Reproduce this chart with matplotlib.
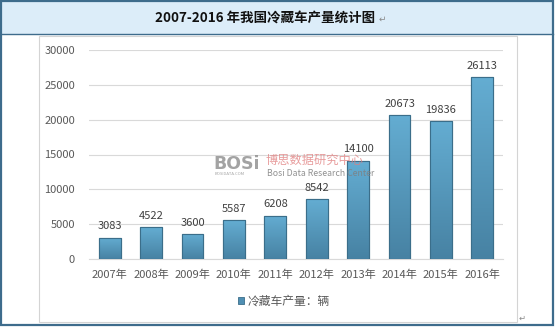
import numpy as np
import matplotlib
matplotlib.use("Agg")
import matplotlib.pyplot as plt
from matplotlib.patches import Rectangle, Patch
from matplotlib.colors import LinearSegmentedColormap

plt.rcParams['font.family'] = ['Noto Sans CJK SC', 'DejaVu Sans']

years = ['2007年', '2008年', '2009年', '2010年', '2011年',
         '2012年', '2013年', '2014年', '2015年', '2016年']
output = [3083, 4522, 3600, 5587, 6208, 8542, 14100, 20673, 19836, 26113]
yticks = [0, 5000, 10000, 15000, 20000, 25000, 30000]
title = '2007-2016 年我国冷藏车产量统计图'
legend_label = '冷藏车产量：辆'

W, H = 556, 327
fig = plt.figure(figsize=(W / 100, H / 100), dpi=100)
fig.patch.set_facecolor('white')


def fx(x):
    return x / W


def fy(y):
    return 1 - y / H


frame_col = '#3e6c8c'

# title band
fig.patches.append(Rectangle((fx(1), fy(34)), (553 - 1) / W, (34 - 1) / H,
                             transform=fig.transFigure, facecolor='#dcedf9',
                             edgecolor='none', zorder=-2))
fig.lines.append(plt.Line2D([fx(1), fx(553)], [fy(34), fy(34)],
                            transform=fig.transFigure, color=frame_col, lw=1.0,
                            zorder=-1))
# inner chart box
fig.patches.append(Rectangle((fx(39), fy(322)), (517 - 39) / W, (322 - 36) / H,
                             transform=fig.transFigure, facecolor='white',
                             edgecolor='#d4d4d4', lw=0.8, zorder=-2))
# outer frame
fig.patches.append(Rectangle((fx(1), fy(325)), (553 - 1) / W, (325 - 1) / H,
                             transform=fig.transFigure, facecolor='none',
                             edgecolor=frame_col, lw=1.6, zorder=5))

fig.text(fx(265), fy(18), title, ha='center', va='center', fontsize=9.7,
         fontweight='bold', color='#111111')
fig.text(fx(379), fy(19), '↵', ha='left', va='center', fontsize=6.5,
         color='#8a8a8a', family=['DejaVu Sans'])
fig.text(fx(519), fy(318), '↵', ha='left', va='center', fontsize=6,
         color='#8a8a8a', family=['DejaVu Sans'])

ax = fig.add_axes([fx(89), fy(259), (503 - 89) / W, (259 - 50) / H])
ax.set_zorder(1)
ax.set_facecolor('none')
x = np.arange(len(years))
bars = ax.bar(x, output, width=0.53, color='#55a0c4', edgecolor='#3b6e8a',
              linewidth=0.8, zorder=3)

cmap = LinearSegmentedColormap.from_list('barfill', ['#4782a3', '#64add2'])
grad = np.linspace(0, 1, 128).reshape(-1, 1)
for b in bars:
    x0, y0 = b.get_x(), b.get_y()
    im = ax.imshow(grad, cmap=cmap, aspect='auto', origin='lower',
                   extent=(x0, x0 + b.get_width(), y0, y0 + b.get_height()),
                   zorder=3.5)
    im.set_clip_path(b)
    ax.add_patch(Rectangle((x0, y0), b.get_width(), b.get_height(),
                           facecolor='none', edgecolor='#3b6e8a', lw=0.8,
                           zorder=4))
    ax.text(x0 + b.get_width() / 2, b.get_height() + 900, f'{b.get_height():.0f}',
            ha='center', va='bottom', fontsize=8, color='#404040')

ax.set_xlim(-0.5, len(years) - 0.5)
ax.set_ylim(0, 30000)
ax.set_yticks(yticks)
ax.set_yticklabels([str(v) for v in yticks])
ax.set_xticks(x)
ax.set_xticklabels(years)
ax.tick_params(axis='both', length=0, labelsize=8, colors='#595959')
ax.tick_params(axis='y', pad=10)
ax.tick_params(axis='x', pad=8)
ax.grid(axis='y', color='#d9d9d9', lw=0.8, zorder=0)
for s in ['top', 'right', 'left']:
    ax.spines[s].set_visible(False)
ax.spines['bottom'].set_color('#d9d9d9')
ax.spines['bottom'].set_linewidth(0.8)

handle = Patch(facecolor='#4f8fb3', edgecolor='#3b6e8a', lw=0.6)
fig.legend([handle], [legend_label], loc='center', bbox_to_anchor=(fx(284), fy(301)),
           frameon=False, fontsize=8.5, handlelength=0.55, handleheight=0.55,
           handletextpad=0.3, labelcolor='#595959')

# watermark
fig.text(fx(213), fy(164), 'BOSi', ha='left', va='center', fontsize=12.5,
         fontweight='bold', color='#8c8c8c', alpha=0.8, zorder=10,
         family=['DejaVu Sans'])
fig.text(fx(215), fy(174), 'BOSIDATA.COM', ha='left', va='center', fontsize=3,
         color='#8c8c8c', alpha=0.8, zorder=10)
fig.text(fx(265), fy(160), '博思数据研究中心', ha='left', va='center', fontsize=8.8,
         color='#e07c7c', alpha=0.75, zorder=10)
fig.text(fx(267), fy(173), 'Bosi Data Research Center', ha='left', va='center',
         fontsize=6.3, color='#7f7f7f', alpha=0.85, zorder=10)

fig.savefig('out.png', dpi=100)
